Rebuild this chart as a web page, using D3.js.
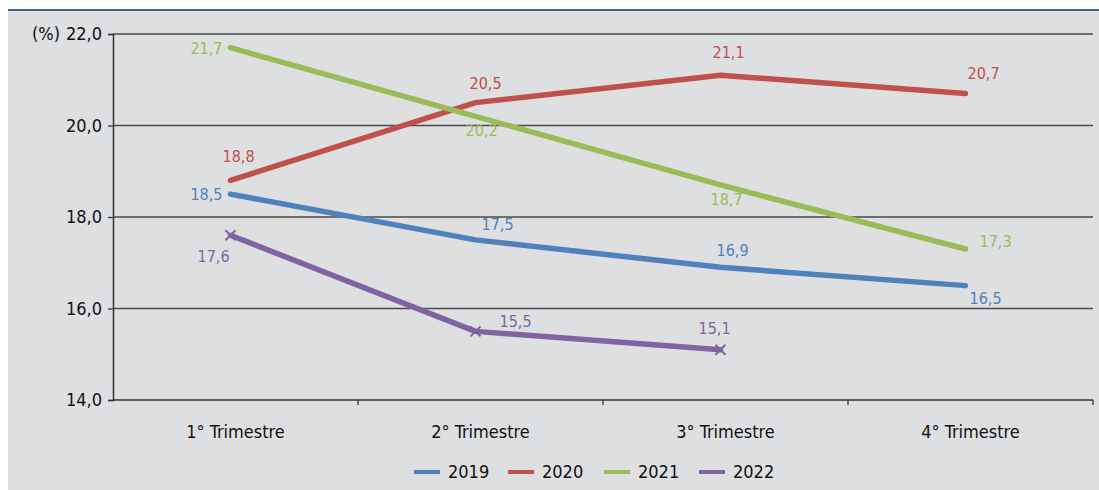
<!DOCTYPE html>
<html>
<head>
<meta charset="utf-8">
<script src="https://cdn.jsdelivr.net/npm/d3@7"></script>
<style>
  html, body { margin: 0; padding: 0; background: #ffffff; }
  svg { display: block; }
  .ax text, text.ax { font-family: "Liberation Sans Narrow", "DejaVu Sans Condensed", "Arial Narrow", sans-serif; font-size: 18px; fill: #111; }
  .lbl { font-family: "Liberation Sans Narrow", "DejaVu Sans Condensed", "Arial Narrow", sans-serif; font-size: 16px; }
</style>
</head>
<body>
<svg id="chart" width="1099" height="490"></svg>
<script>
// Quarterly rate (%) by year
const quarters = ["1° Trimestre", "2° Trimestre", "3° Trimestre", "4° Trimestre"];
const years = ["2019", "2020", "2021", "2022"];
const values2019 = [18.5, 17.5, 16.9, 16.5];
const values2020 = [18.8, 20.5, 21.1, 20.7];
const values2021 = [21.7, 20.2, 18.7, 17.3];
const values2022 = [17.6, 15.5, 15.1];
const yTicks = [14, 16, 18, 20, 22];
const colors = ["#4f81bd", "#c0504d", "#9bbb59", "#8064a2"];

// label placement per series and point: [dx, dy, anchor]
const labelPos = [
  [[-8, 6, "end"], [6, -10, "start"], [-4, -11, "start"], [4, 18, "start"]],
  [[-8, -18, "start"], [-6, -14, "start"], [-8, -17, "start"], [2, -14, "start"]],
  [[-8, 6, "end"], [-10, 20, "start"], [-10, 20, "start"], [14, -2, "start"]],
  [[-33, 27, "start"], [24, -4, "start"], [-22, -16, "start"]]
];

const series = [values2019, values2020, values2021, values2022].map((v, i) => ({
  name: years[i], color: colors[i], values: v
}));

const svg = d3.select("#chart");
const W = 1099, H = 490;
const m = { left: 113, right: 6, top: 34, bottom: 90 };

// panel background and header rule
svg.append("rect").attr("x", 8).attr("y", 10).attr("width", W - 8).attr("height", H - 10).attr("fill", "#dedfe1");
svg.append("rect").attr("x", 8).attr("y", 9).attr("width", W - 8).attr("height", 2).attr("fill", "#3b6185");

const x = d3.scaleBand().domain(quarters).range([m.left, W - m.right]);
const y = d3.scaleLinear().domain([14, 22]).range([H - m.bottom, m.top]);
const px = q => x(q) + x.bandwidth() / 2 - 5;

// gridlines
svg.append("g").selectAll("line").data(yTicks.slice(1)).join("line")
  .attr("x1", m.left).attr("x2", W - m.right)
  .attr("y1", d => y(d)).attr("y2", d => y(d))
  .attr("stroke", "#4a4a4a").attr("stroke-width", 1.3);

// y axis
const yAxis = svg.append("g").attr("class", "ax").attr("transform", `translate(${m.left},0)`)
  .call(d3.axisLeft(y).tickValues(yTicks).tickSize(5).tickPadding(6)
    .tickFormat(d => d3.format(".1f")(d).replace(".", ",")));
yAxis.selectAll("text").style("font-size", null).style("font-family", null).attr("font-size", null).attr("font-family", null);
yAxis.attr("font-size", null).attr("font-family", null);
yAxis.select(".domain").attr("stroke", "#333").attr("stroke-width", 1.5);
yAxis.selectAll(".tick line").attr("stroke", "#333").attr("stroke-width", 1.3);

svg.append("text").attr("class", "ax").attr("x", 32).attr("y", y(22) + 6).text("(%)");

// x axis with ticks at band boundaries
const xg = svg.append("g").attr("class", "ax").attr("transform", `translate(0,${y(14)})`);
xg.append("line").attr("x1", m.left).attr("x2", W - m.right).attr("stroke", "#333").attr("stroke-width", 1.5);
const bounds = quarters.slice(1).map(q => x(q)).concat([W - m.right]);
xg.selectAll("line.t").data(bounds).join("line").attr("class", "t")
  .attr("x1", d => d).attr("x2", d => d).attr("y1", 0).attr("y2", 5)
  .attr("stroke", "#333").attr("stroke-width", 1.3);
xg.selectAll("text").data(quarters).join("text")
  .attr("x", d => x(d) + x.bandwidth() / 2).attr("y", 38)
  .attr("text-anchor", "middle").text(d => d);

// series lines
const line = d3.line().x((d, i) => px(quarters[i])).y(d => y(d));
svg.append("g").selectAll("path").data(series).join("path")
  .attr("d", d => line(d.values))
  .attr("fill", "none").attr("stroke", d => d.color)
  .attr("stroke-width", 5.5).attr("stroke-linecap", "round").attr("stroke-linejoin", "round");

// x markers on the 2022 series
const s22 = series[3];
svg.append("g").selectAll("path").data(s22.values).join("path")
  .attr("d", (d, i) => {
    const cx = px(quarters[i]), cy = y(d), r = 5;
    return `M${cx - r},${cy - r}L${cx + r},${cy + r}M${cx - r},${cy + r}L${cx + r},${cy - r}`;
  })
  .attr("stroke", s22.color).attr("stroke-width", 2);

// value labels
series.forEach((s, si) => {
  svg.append("g").selectAll("text").data(s.values).join("text")
    .attr("class", "lbl")
    .attr("x", (d, i) => px(quarters[i]) + labelPos[si][i][0])
    .attr("y", (d, i) => y(d) + labelPos[si][i][1])
    .attr("text-anchor", (d, i) => labelPos[si][i][2])
    .attr("fill", s.color)
    .text(d => d3.format(".1f")(d).replace(".", ","));
});

// legend
const legX = [414, 508, 604, 699];
const leg = svg.append("g").selectAll("g").data(series).join("g")
  .attr("transform", (d, i) => `translate(${legX[i]},472)`);
leg.append("line").attr("x1", 0).attr("x2", 26).attr("stroke", d => d.color).attr("stroke-width", 4);
leg.append("text").attr("class", "ax").attr("x", 34).attr("y", 6).text(d => d.name);
</script>
</body>
</html>
